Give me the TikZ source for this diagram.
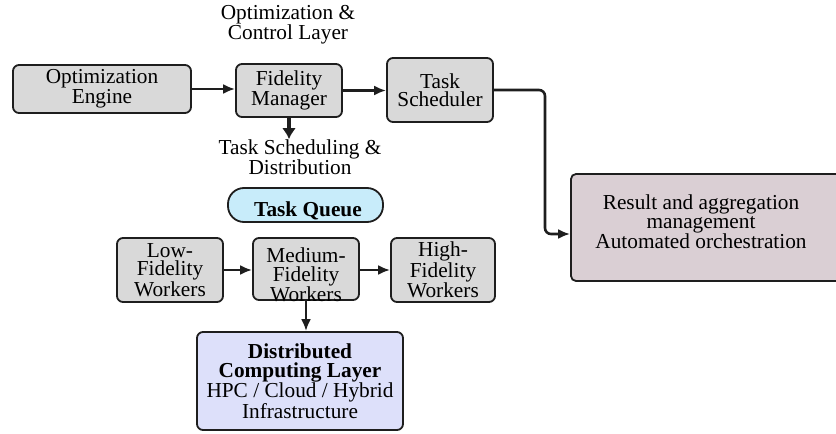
\documentclass[tikz,border=0pt]{standalone}
\usepackage{fontspec}
\setmainfont{Liberation Serif}
\usetikzlibrary{arrows.meta}
\definecolor{boxgray}{RGB}{217,217,217}
\definecolor{queueblue}{RGB}{200,236,250}
\definecolor{computeblue}{RGB}{221,224,250}
\definecolor{resultpink}{RGB}{218,207,212}
\definecolor{edgegray}{RGB}{30,30,30}
\tikzset{
  box/.style={draw=edgegray, line width=1.8pt, rounded corners=6pt, fill=boxgray, align=center, inner sep=2pt},
  txt/.style={align=center, inner sep=0pt},
  flow/.style={draw=edgegray, line width=2.6pt, -{Latex[length=12pt,width=10pt]}},
}

\begin{document}
\begin{tikzpicture}[x=1pt, y=-1pt, font=\fontsize{21.3}{18.5}\selectfont]
				\useasboundingbox (0,0) rectangle (836,434);
				\clip (0,0) rectangle (836,434);
				
				\node[txt] (ctrl) at (288,25) {Optimization \&\\Control Layer};
				\node[box, minimum width=178pt, minimum height=48pt] (engine) at (102,89) {Optimization\\Engine};
				\node[box, minimum width=106pt, minimum height=53pt] (fm) at (289,90.5) {Fidelity\\Manager};
				\node[box, minimum width=106pt, minimum height=64pt] (ts) at (440,90) {Task\\Scheduler};
				\node[txt] (dist) at (300,157) {Task Scheduling \&\\Distribution};
				
				\node[box, fill=queueblue, rounded corners=16pt, minimum width=155pt, minimum height=34pt] (queue) at (305.5,205) {};
				\node[txt] (queuetxt) at (308,211) {\bfseries Task Queue};
				
				\node[box, minimum width=106pt, minimum height=64pt] (low) at (170,270) {Low-\\Fidelity\\Workers};
				\node[box, minimum width=106pt, minimum height=62pt] (med) at (306,269) {};
				\node[txt] (medtxt) at (306,275) {Medium-\\Fidelity\\Workers};
				\node[box, minimum width=104pt, minimum height=64pt] (high) at (443,270) {High-\\Fidelity\\Workers};
				
				\node[box, fill=computeblue, minimum width=206pt, minimum height=98pt] (dcl) at (300,381) {\textbf{Distributed}\\\textbf{Computing Layer}\\HPC / Cloud / Hybrid\\Infrastructure};
				
				\node[box, fill=resultpink, rounded corners=5pt, minimum width=272pt, minimum height=107pt] (res) at (707,227.5) {};
				\node[txt] (restxt) at (701,222) {Result and aggregation\\management\\Automated orchestration};
				
				\draw[flow] (engine.east) -- (engine.east -| fm.west);
				\draw[flow] (fm.east) -- (fm.east -| ts.west);
				\draw[flow, line width=4.8pt, -{Latex[length=11pt,width=14pt]}] (fm.south) -- (fm.south |- dist.north);
				
				\coordinate (turn) at (545,90);
				\draw[flow, rounded corners=6pt] (ts.east) -- (turn) |- ([yshift=-6.5pt]res.west);
				
				\draw[flow] (low.east) -- (low.east -| med.west);
				\draw[flow] (high.west -| med.east) -- (high.west);
				\draw[flow] (med.south) -- (med.south |- dcl.north);
			\end{tikzpicture}
\end{document}
